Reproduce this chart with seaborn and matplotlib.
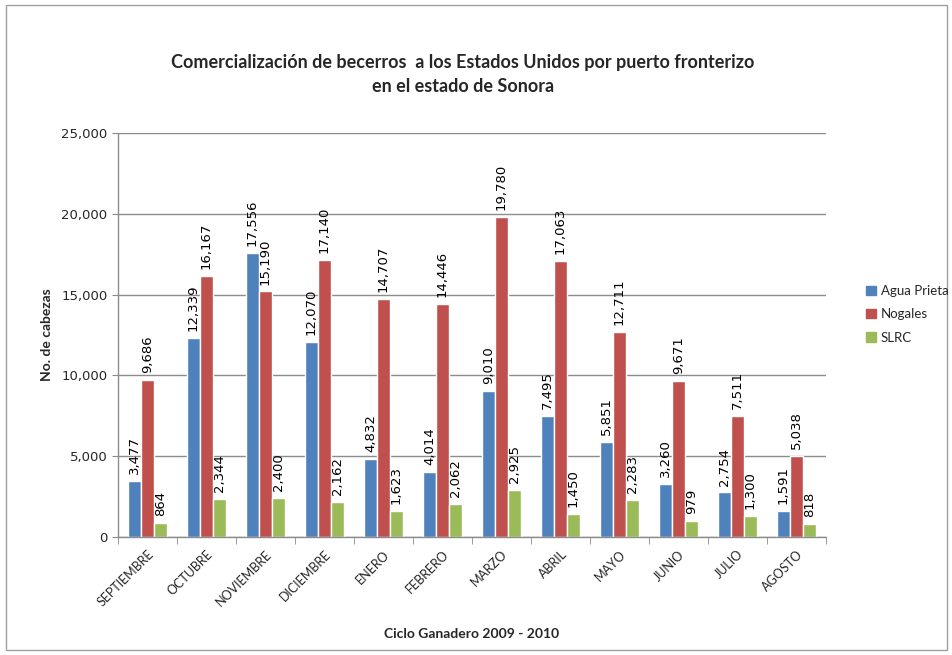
import matplotlib
matplotlib.use("Agg")
import matplotlib.pyplot as plt
import matplotlib.patches as mpatches
import seaborn as sns
import pandas as pd

months = ["SEPTIEMBRE", "OCTUBRE", "NOVIEMBRE", "DICIEMBRE", "ENERO", "FEBRERO",
          "MARZO", "ABRIL", "MAYO", "JUNIO", "JULIO", "AGOSTO"]
series_names = ["Agua Prieta", "Nogales", "SLRC"]
agua_prieta = [3477, 12339, 17556, 12070, 4832, 4014, 9010, 7495, 5851, 3260, 2754, 1591]
nogales = [9686, 16167, 15190, 17140, 14707, 14446, 19780, 17063, 12711, 9671, 7511, 5038]
slrc = [864, 2344, 2400, 2162, 1623, 2062, 2925, 1450, 2283, 979, 1300, 818]
colors = ["#4F81BD", "#C0504D", "#9BBB59"]

df = pd.DataFrame({
    "mes": months * 3,
    "serie": [series_names[0]] * 12 + [series_names[1]] * 12 + [series_names[2]] * 12,
    "valor": agua_prieta + nogales + slrc,
})

sns.set_style("white")
plt.rcParams["font.family"] = ["Lato", "DejaVu Sans"]

fig = plt.figure(figsize=(9.53, 6.55), dpi=100)
ax = fig.add_axes([0.1238, 0.1802, 0.7429, 0.6168])

sns.barplot(data=df, x="mes", y="valor", hue="serie", hue_order=series_names,
            order=months, palette=colors, width=0.66, ax=ax, legend=False,
            saturation=1, errorbar=None)

for cont in ax.containers:
    ax.bar_label(cont, labels=[f"{int(v.get_height()):,}" for v in cont],
                 rotation=90, padding=5, fontsize=9.5, family="DejaVu Sans", color="#000000")

ax.set_ylim(0, 25000)
ax.set_xlim(-0.5, 11.5)
ax.set_yticks(range(0, 25001, 5000))
ax.set_yticklabels([f"{v:,}" for v in range(0, 25001, 5000)], fontsize=9.5, family="DejaVu Sans")
ax.yaxis.grid(True, color="#8c8c8c", linewidth=1)
ax.set_axisbelow(True)
for s in ["top", "right"]:
    ax.spines[s].set_visible(False)
for s in ["left", "bottom"]:
    ax.spines[s].set_color("#8c8c8c")
    ax.spines[s].set_linewidth(1)

ax.set_xticks(range(12))
ax.set_xticklabels(months, rotation=45, ha="right", rotation_mode="anchor", fontsize=9)
ax.tick_params(axis="x", length=0, pad=8)
ax.tick_params(axis="y", length=4, color="#8c8c8c", left=True)
ax.set_xticks([i + 0.5 for i in range(-1, 12)], minor=True)
ax.tick_params(axis="x", which="minor", length=5, color="#8c8c8c", bottom=True)

ax.set_xlabel("Ciclo Ganadero 2009 - 2010", fontsize=10, fontweight="bold", labelpad=14)
ax.set_ylabel("No. de cabezas", fontsize=10, fontweight="bold", labelpad=6)

fig.text(0.486, 0.886, "Comercialización de becerros  a los Estados Unidos por puerto fronterizo\nen el estado de Sonora",
         ha="center", va="center", fontsize=13, fontweight="bold", linespacing=1.5)

handles = [mpatches.Patch(color=c, label=n) for c, n in zip(colors, series_names)]
fig.legend(handles=handles, loc="center left", bbox_to_anchor=(0.909, 0.52), frameon=False,
           fontsize=9.5, handlelength=0.7, handleheight=0.7, handletextpad=0.4, labelspacing=0.85,
           borderaxespad=0, borderpad=0)

border = mpatches.Rectangle((0.006, 0.008), 0.988, 0.984, transform=fig.transFigure,
                            fill=False, edgecolor="#a0a0a0", linewidth=1)
fig.patches.append(border)

fig.savefig("out.png", dpi=100)
